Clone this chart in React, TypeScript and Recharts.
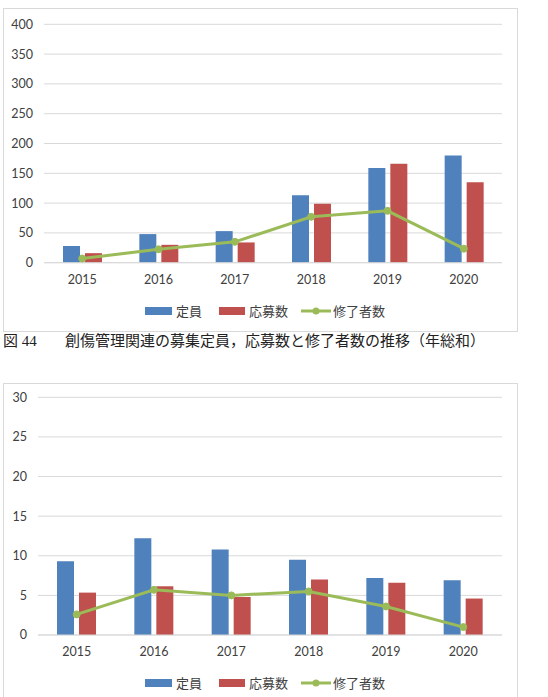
import React from "react";
import { ComposedChart, Bar, Line, XAxis, YAxis, CartesianGrid } from "recharts";

const years = ["2015", "2016", "2017", "2018", "2019", "2020"];

// 図44 (年総和)
const teiin1 = [28, 48, 53, 113, 159, 180];
const oubo1 = [16, 30, 34, 99, 166, 135];
const shuryo1 = [7, 22.5, 35, 77, 87, 23.5];
const ticks1 = [0, 50, 100, 150, 200, 250, 300, 350, 400];

// second chart
const teiin2 = [9.3, 12.2, 10.8, 9.5, 7.2, 6.9];
const oubo2 = [5.35, 6.15, 4.8, 7.0, 6.6, 4.6];
const shuryo2 = [2.6, 5.7, 5.0, 5.5, 3.6, 1.0];
const ticks2 = [0, 5, 10, 15, 20, 25, 30];

const BLUE = "#4F81BD";
const RED = "#C0504D";
const GREEN = "#9BBB59";
const GRID = "#D9D9D9";
const TEXT = "#404040";
const NUM_FONT = "Lato, 'Noto Sans', sans-serif";
const JP_FONT = "'Noto Sans CJK JP', sans-serif";
const CAPTION_FONT = "'Liberation Serif', 'Noto Sans CJK JP', serif";

function toRows(a: number[], b: number[], c: number[]) {
  return years.map((y, i) => ({ year: y, teiin: a[i], oubo: b[i], shuryo: c[i] }));
}

function LegendRow({ top }: { top: number }) {
  const txt = { fontFamily: JP_FONT, fontSize: 13, color: TEXT, lineHeight: "16px" };
  return (
    <div style={{ position: "absolute", left: 141, top: top - 8, height: 16, display: "flex", alignItems: "center" }}>
      <div style={{ width: 27, height: 8, background: BLUE }} />
      <span style={{ ...txt, marginLeft: 4 }}>定員</span>
      <div style={{ width: 26, height: 8, background: RED, marginLeft: 17 }} />
      <span style={{ ...txt, marginLeft: 4 }}>応募数</span>
      <svg width={30} height={10} style={{ marginLeft: 13 }}>
        <line x1={0} y1={5} x2={30} y2={5} stroke={GREEN} strokeWidth={3} />
        <circle cx={15} cy={5} r={3.5} fill={GREEN} />
      </svg>
      <span style={{ ...txt, marginLeft: 2 }}>修了者数</span>
    </div>
  );
}

interface PanelProps {
  top: number;
  boxHeight: number;
  rows: ReturnType<typeof toRows>;
  ticks: number[];
  yWidth: number;
  plotTop: number;
  plotBottom: number;
  legendY: number;
}

function Panel({ top, boxHeight, rows, ticks, yWidth, plotTop, plotBottom, legendY }: PanelProps) {
  const w = 513;
  const h = boxHeight - 2;
  const xh = 30;
  return (
    <div
      style={{
        position: "absolute",
        left: 3,
        top,
        width: 515,
        height: boxHeight,
        boxSizing: "border-box",
        border: `1px solid ${GRID}`,
        background: "#fff",
      }}
    >
      <ComposedChart
        width={w}
        height={h}
        data={rows}
        margin={{ top: plotTop, right: 15, left: 0, bottom: h - plotBottom - xh }}
        barSize={17}
        barGap={5}
      >
        <CartesianGrid vertical={false} stroke={GRID} strokeWidth={1} />
        <XAxis
          dataKey="year"
          height={xh}
          tickLine={false}
          tickSize={0}
          tickMargin={12}
          axisLine={{ stroke: GRID }}
          tick={{ fill: TEXT, fontSize: 12.5, fontFamily: NUM_FONT }}
        />
        <YAxis
          width={yWidth}
          domain={[ticks[0], ticks[ticks.length - 1]]}
          ticks={ticks}
          axisLine={false}
          tickLine={false}
          tickSize={0}
          tickMargin={11}
          tick={{ fill: TEXT, fontSize: 12.5, fontFamily: NUM_FONT }}
        />
        <Bar dataKey="teiin" name="定員" fill={BLUE} isAnimationActive={false} />
        <Bar dataKey="oubo" name="応募数" fill={RED} isAnimationActive={false} />
        <Line
          dataKey="shuryo"
          name="修了者数"
          stroke={GREEN}
          strokeWidth={3}
          dot={{ r: 3.5, fill: GREEN, stroke: GREEN, strokeWidth: 1 }}
          isAnimationActive={false}
        />
      </ComposedChart>
      <LegendRow top={legendY} />
    </div>
  );
}

export default function App() {
  return (
    <div style={{ position: "absolute", left: 0, top: 0, width: 548, height: 697, background: "#fff", overflow: "hidden" }}>
      <Panel
        top={8}
        boxHeight={324}
        rows={toRows(teiin1, oubo1, shuryo1)}
        ticks={ticks1}
        yWidth={40}
        plotTop={15.3}
        plotBottom={253.7}
        legendY={302}
      />
      <div style={{ position: "absolute", left: 3, top: 334, fontFamily: CAPTION_FONT, fontSize: 15, lineHeight: "15px", color: "#222" }}>
        図 44
      </div>
      <div style={{ position: "absolute", left: 65, top: 334, fontFamily: CAPTION_FONT, fontSize: 15, lineHeight: "15px", color: "#222", whiteSpace: "nowrap" }}>
        創傷管理関連の募集定員，応募数と修了者数の推移（年総和）
      </div>
      <Panel
        top={383}
        boxHeight={322}
        rows={toRows(teiin2, oubo2, shuryo2)}
        ticks={ticks2}
        yWidth={34}
        plotTop={13.3}
        plotBottom={251}
        legendY={298.7}
      />
    </div>
  );
}
